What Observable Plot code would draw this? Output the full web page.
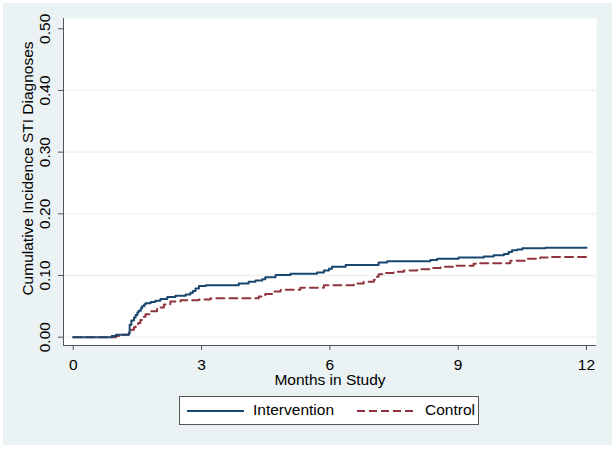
<!DOCTYPE html>
<html>
<head>
<meta charset="utf-8">
<script src="https://cdn.jsdelivr.net/npm/d3@7"></script>
<script src="https://cdn.jsdelivr.net/npm/@observablehq/plot@0.6"></script>
<style>
  html, body { margin: 0; padding: 0; background: #ffffff; }
  #wrap { position: relative; width: 615px; height: 449px; background: #ffffff; overflow: hidden;
          font-family: "Liberation Sans", Arial, Helvetica, sans-serif; }
  #bg { position: absolute; left: 3px; top: 3px; width: 609px; height: 442px; background: #eaf2f3; }
  #chart { position: absolute; left: 0; top: 0; }
  #legend { position: absolute; left: 179px; top: 396px; width: 298px; height: 27px; background: #ffffff;
            border: 1px solid #555; box-sizing: content-box; }
  #legend svg { position: absolute; left: 0; top: 0; }
  #legend span { position: absolute; top: 4px; font-size: 15.5px; color: #000; line-height: 18px; }
</style>
</head>
<body>
<div id="wrap">
  <div id="bg"></div>
  <div id="chart"></div>
  <div id="legend">
    <svg width="298" height="27">
      <line x1="7" x2="64" y1="14" y2="14" stroke="#1a476f" stroke-width="2"></line>
      <line x1="177" x2="234" y1="14" y2="14" stroke="#90353b" stroke-width="2" stroke-dasharray="8,4"></line>
    </svg>
    <span id="lab1" style="left:73px;">Intervention</span>
    <span id="lab2" style="left:245px;">Control</span>
  </div>
</div>
<script>
// ---- data ----
const seriesNames = ["Intervention", "Control"];
const intMonths = [0, 0.90, 1.00, 1.30, 1.32, 1.36, 1.42, 1.46, 1.50, 1.53, 1.58, 1.61, 1.66, 1.69, 1.81, 1.92, 2.04, 2.20, 2.39, 2.63, 2.74, 2.80, 2.86, 2.94, 3.10, 3.87, 4.10, 4.26, 4.42, 4.49, 4.73, 5.08, 5.70, 5.86, 5.98, 6.05, 6.37, 7.14, 7.34, 8.35, 8.51, 9.01, 9.60, 9.83, 10.07, 10.18, 10.26, 10.38, 10.50, 11.04, 12.00];
const intValues = [0, 0.002, 0.004, 0.006, 0.020, 0.027, 0.032, 0.036, 0.040, 0.043, 0.047, 0.050, 0.053, 0.055, 0.057, 0.059, 0.062, 0.065, 0.067, 0.069, 0.072, 0.075, 0.079, 0.083, 0.084, 0.087, 0.090, 0.092, 0.094, 0.097, 0.101, 0.103, 0.105, 0.108, 0.111, 0.114, 0.117, 0.121, 0.123, 0.125, 0.127, 0.129, 0.131, 0.133, 0.135, 0.138, 0.141, 0.142, 0.144, 0.145, 0.145];
const ctlMonths = [0, 1.00, 1.15, 1.30, 1.36, 1.42, 1.46, 1.52, 1.57, 1.63, 1.69, 1.81, 1.96, 2.12, 2.27, 2.51, 2.94, 3.21, 4.34, 4.49, 4.65, 4.85, 5.31, 5.86, 6.56, 6.79, 7.03, 7.10, 7.14, 7.26, 7.49, 7.73, 8.04, 8.35, 8.59, 8.90, 9.36, 9.48, 10.22, 10.61, 10.92, 11.12, 12.00];
const ctlValues = [0, 0.002, 0.004, 0.008, 0.012, 0.016, 0.019, 0.023, 0.028, 0.033, 0.037, 0.042, 0.048, 0.053, 0.058, 0.060, 0.061, 0.063, 0.066, 0.070, 0.074, 0.077, 0.080, 0.084, 0.087, 0.090, 0.093, 0.098, 0.102, 0.104, 0.106, 0.108, 0.110, 0.112, 0.114, 0.116, 0.119, 0.120, 0.124, 0.127, 0.129, 0.130, 0.130];
const xTicks = [0, 3, 6, 9, 12];
const yTicks = [0, 0.1, 0.2, 0.3, 0.4, 0.5];
const yGrid = [0, 0.1, 0.2, 0.3, 0.4];
const xTitle = "Months in Study";
const yTitle = "Cumulative Incidence STI Diagnoses";

const intData = intMonths.map((m, i) => ({month: m, value: intValues[i], group: seriesNames[0]}));
const ctlData = ctlMonths.map((m, i) => ({month: m, value: ctlValues[i], group: seriesNames[1]}));

const xDomain = [-0.227, 12.234];
const yDomain = [-0.0135, 0.5167];
const axisColor = "#555";

const chart = Plot.plot({
  width: 615,
  height: 392,
  marginLeft: 63,
  marginRight: 19,
  marginTop: 18,
  marginBottom: 47,
  style: {background: "transparent", fontFamily: "'Liberation Sans', Arial, Helvetica, sans-serif", fontSize: "15.5px", color: "#000"},
  x: {domain: xDomain},
  y: {domain: yDomain},
  marks: [
    Plot.frame({fill: "#ffffff", stroke: "none"}),
    Plot.ruleY(yGrid, {stroke: "#eaf2f3", strokeWidth: 1.3}),
    Plot.line(ctlData, {x: "month", y: "value", curve: "step-after", stroke: "#90353b", strokeWidth: 2, strokeDasharray: "8,5"}),
    Plot.line(intData, {x: "month", y: "value", curve: "step-after", stroke: "#1a476f", strokeWidth: 2}),
    Plot.ruleX([xDomain[0]], {stroke: axisColor, strokeWidth: 1}),
    Plot.ruleY([yDomain[0]], {stroke: axisColor, strokeWidth: 1}),
    Plot.axisX({ticks: xTicks, tickSize: 5, tickPadding: 8, stroke: axisColor, fill: "#000", fontSize: 15.5, label: null, tickFormat: d => String(d)}),
    Plot.axisY({ticks: yTicks, tickSize: 5, stroke: axisColor, text: null, label: null}),
    Plot.text(yTicks, {y: d => d, text: d => d.toFixed(2), frameAnchor: "left", dx: -18, rotate: -90, textAnchor: "middle", lineAnchor: "middle", fontSize: 15.5, fill: "#000"}),
    Plot.text([yTitle], {frameAnchor: "left", dx: -35.5, dy: -13.5, rotate: -90, textAnchor: "middle", lineAnchor: "middle", fontSize: 15.5, fill: "#000"}),
    Plot.text([xTitle], {frameAnchor: "bottom", dy: 35, textAnchor: "middle", lineAnchor: "middle", fontSize: 15.5, fill: "#000"})
  ]
});
document.getElementById("chart").appendChild(chart);
</script>
</body>
</html>
